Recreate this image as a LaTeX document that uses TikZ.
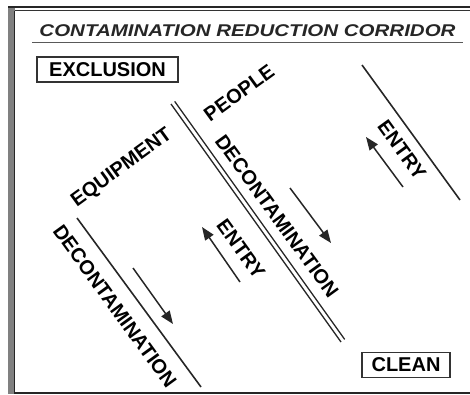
\documentclass[tikz,border=0pt]{standalone}
\usepackage{fontspec}
\setmainfont{Liberation Sans}
\usetikzlibrary{arrows.meta}
\tikzset{
  lbl/.style={font=\fontsize{20}{20}\selectfont\bfseries, inner sep=0pt},
  diag/.style={lbl, rotate=-54},
  perp/.style={lbl, rotate=36},
  wall/.style={line width=1.6pt, black!85},
  flow/.style={line width=1.5pt, black!85, -{Triangle[length=13pt,width=10pt]}},
  zonebox/.style={draw=black!80, line width=1.3pt, inner sep=0pt, minimum height=25pt}
}
\begin{document}
\begin{tikzpicture}[x=1pt,y=-1pt]
\useasboundingbox (0,0) rectangle (470,394);
% frame
\fill[black!50] (8,7) rectangle (14.5,394);
\draw[line width=1.6pt, black!85] (8,6.8) -- (470,6.8);
\draw[line width=1.0pt, black!80] (14.5,10.5) -- (470,10.5);
\draw[line width=1.0pt, black!85] (14.8,10.5) -- (14.8,392);
\draw[line width=2pt, black!85] (14,392.5) -- (470,392.5);
% title
\node[font=\fontsize{20}{20}\selectfont\bfseries\itshape, inner sep=0pt, black!85] (title) at (247.5,31) {\scalebox{1.025}[0.85]{CONTAMINATION REDUCTION CORRIDOR}};
\coordinate (ulA) at (32,42.5);
\coordinate (ulB) at (463,42.5);
\draw[line width=1.5pt, black!65] (ulA) -- (ulB);
% zone boxes
\node[zonebox, minimum width=141pt, lbl] (excl) at (107.5,69.5) {EXCLUSION};
\node[zonebox, minimum width=88pt, lbl] (clean) at (406,365) {CLEAN};
% walls
\coordinate (w1a) at (77,218);   \coordinate (w1b) at (201,387);
\coordinate (w2a) at (171,104);  \coordinate (w2b) at (341,342);
\coordinate (w3a) at (174.7,101.4); \coordinate (w3b) at (344.7,339.4);
\coordinate (w4a) at (362,65);   \coordinate (w4b) at (460,200);
\draw[wall] (w1a) -- (w1b);
\draw[wall, line width=1.3pt] (w2a) -- (w2b);
\draw[wall, line width=1.3pt] (w3a) -- (w3b);
\draw[wall] (w4a) -- (w4b);
% arrows
\coordinate (a1s) at (133,268); \coordinate (a1e) at (173,324);
\coordinate (a2s) at (240,282); \coordinate (a2e) at (202,227);
\coordinate (a3s) at (290,188); \coordinate (a3e) at (331,243);
\coordinate (a4s) at (403,187); \coordinate (a4e) at (366,137);
\draw[flow] (a1s) -- (a1e);
\draw[flow] (a2s) -- (a2e);
\draw[flow] (a3s) -- (a3e);
\draw[flow] (a4s) -- (a4e);
% labels
\node[perp] (equip) at (122,168) {EQUIPMENT};
\node[perp] (people) at (239,93) {PEOPLE};
\node[diag] (decon1) at (115,306) {DECONTAMINATION};
\node[diag] (decon2) at (277,216) {DECONTAMINATION};
\node[diag] (entry1) at (241,249) {ENTRY};
\node[diag] (entry2) at (402,150) {ENTRY};
\end{tikzpicture}
\end{document}
